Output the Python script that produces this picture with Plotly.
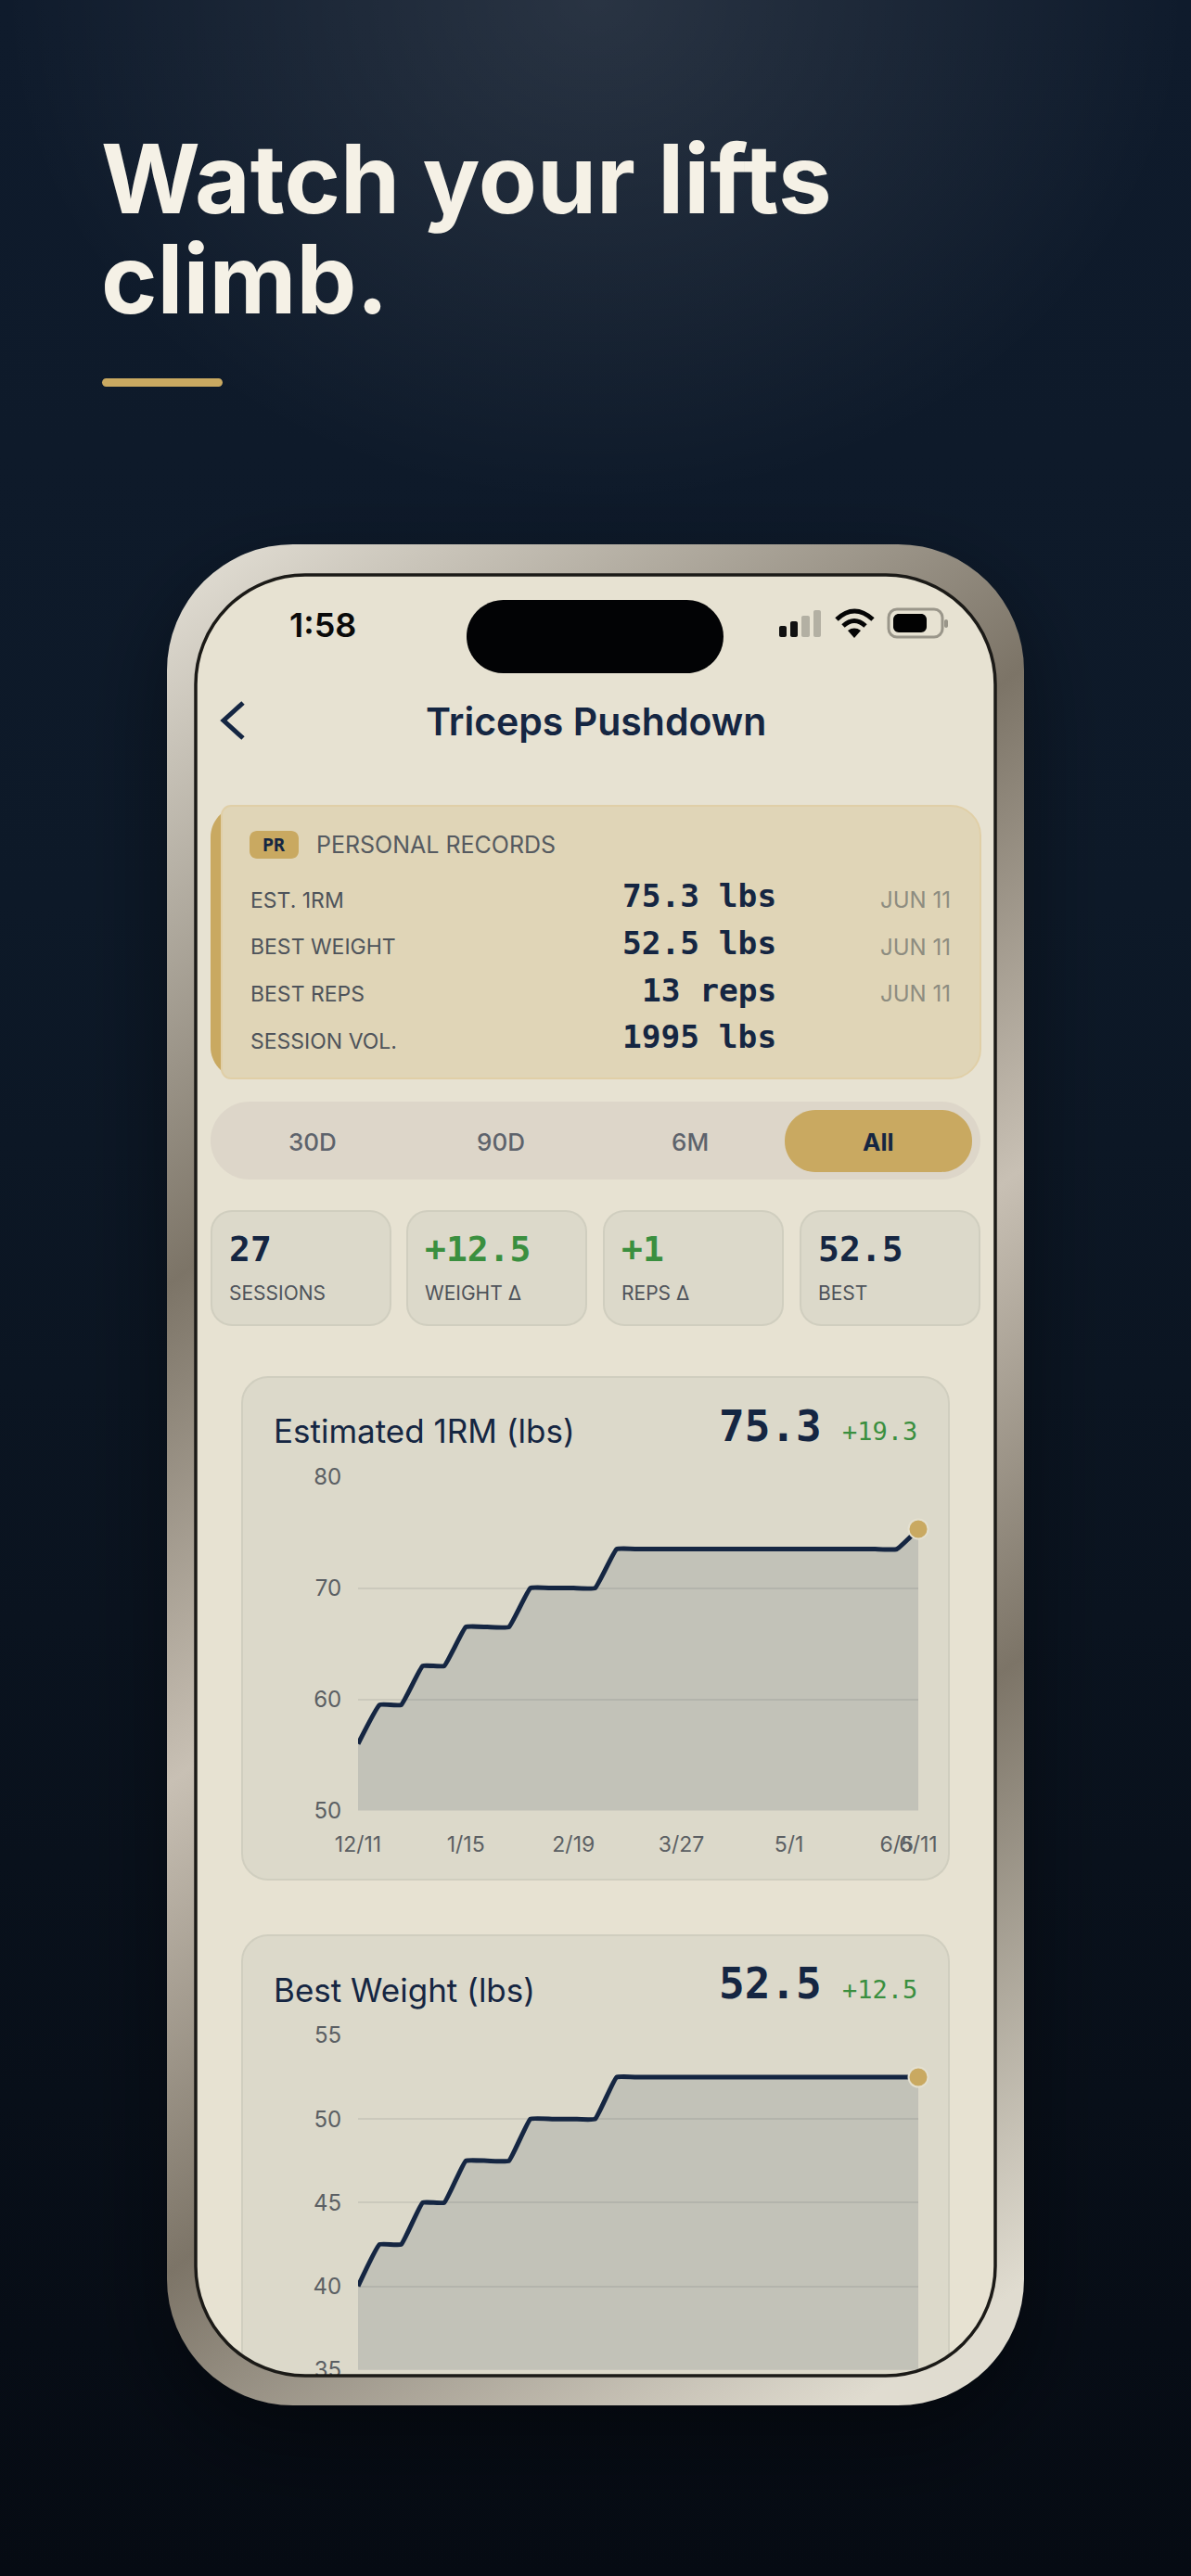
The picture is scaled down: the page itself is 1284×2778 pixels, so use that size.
import base64
import plotly.graph_objects as go

W = 1284
H = 2778

SANS = "Inter"
MONO = "DejaVu Sans Mono"
NAVY = "#152642"
GREY = "#4e535a"
GOLD = "#c9a961"
GREEN = "#3a8f3f"

# one session a week, days counted from 12/11
days = [0, 7, 14, 21, 28, 35, 42, 49, 56, 63, 70, 77, 84, 91, 98, 105, 112, 119, 126, 133, 140, 147, 154, 161, 168, 175, 182]
est_1rm = [56.0, 59.5, 59.5, 63.0, 63.0, 66.5, 66.5, 66.5, 70.0, 70.0, 70.0, 70.0, 73.5, 73.5, 73.5, 73.5, 73.5, 73.5, 73.5, 73.5, 73.5, 73.5, 73.5, 73.5, 73.5, 73.5, 75.3]
best_weight = [40.0, 42.5, 42.5, 45.0, 45.0, 47.5, 47.5, 47.5, 50.0, 50.0, 50.0, 50.0, 52.5, 52.5, 52.5, 52.5, 52.5, 52.5, 52.5, 52.5, 52.5, 52.5, 52.5, 52.5, 52.5, 52.5, 52.5]

date_ticks = [0, 35, 70, 105, 140, 175, 182]
date_labels = ["12/11", "1/15", "2/19", "3/27", "5/1", "6/5", "6/11"]
rm_ticks = [50, 60, 70, 80]
weight_ticks = [35, 40, 45, 50, 55]

pr_labels = ["EST. 1RM", "BEST WEIGHT", "BEST REPS", "SESSION VOL."]
pr_values = ["75.3 lbs", "52.5 lbs", "13 reps", "1995 lbs"]
pr_dates = ["JUN 11", "JUN 11", "JUN 11", ""]

range_labels = ["30D", "90D", "6M", "All"]

stat_values = ["27", "+12.5", "+1", "52.5"]
stat_labels = ["SESSIONS", "WEIGHT Δ", "REPS Δ", "BEST"]
stat_colors = [NAVY, GREEN, GREEN, NAVY]


def px(x):
    return round(x / W, 6)


def py(y):
    return round(1 - y / H, 6)


def svg_uri(body):
    svg = f'<svg xmlns="http://www.w3.org/2000/svg" width="{W}" height="{H}" viewBox="0 0 {W} {H}">{body}</svg>'
    return "data:image/svg+xml;base64," + base64.b64encode(svg.encode()).decode()


def rrect(x0, y0, x1, y1, r, rl=None):
    # rounded box as a path in paper coordinates, plotly has no arcs there
    # rl is a different radius for the two left corners
    if rl is None:
        rl = r
    k = r * 0.45
    kl = rl * 0.45
    pts = [
        f"M{px(x0 + rl)},{py(y0)}",
        f"L{px(x1 - r)},{py(y0)}",
        f"C{px(x1 - k)},{py(y0)} {px(x1)},{py(y0 + k)} {px(x1)},{py(y0 + r)}",
        f"L{px(x1)},{py(y1 - r)}",
        f"C{px(x1)},{py(y1 - k)} {px(x1 - k)},{py(y1)} {px(x1 - r)},{py(y1)}",
        f"L{px(x0 + rl)},{py(y1)}",
        f"C{px(x0 + kl)},{py(y1)} {px(x0)},{py(y1 - kl)} {px(x0)},{py(y1 - rl)}",
        f"L{px(x0)},{py(y0 + rl)}",
        f"C{px(x0)},{py(y0 + kl)} {px(x0 + kl)},{py(y0)} {px(x0 + rl)},{py(y0)}",
        "Z",
    ]
    return " ".join(pts)


def box(x0, y0, x1, y1, r, fill, line=None, width=2, rl=None):
    fig.add_shape(type="path", path=rrect(x0, y0, x1, y1, r, rl), xref="paper", yref="paper",
                  fillcolor=fill, line=dict(color=line or "rgba(0,0,0,0)", width=width if line else 0),
                  layer="below")


def stroke(points, color, width):
    path = points
    fig.add_shape(type="path", path=path, xref="paper", yref="paper",
                  line=dict(color=color, width=width), layer="below")


def label(x, y, text, size, color, family=SANS, weight=400, anchor="left"):
    fig.add_annotation(x=px(x), y=py(y), xref="paper", yref="paper", text=text, showarrow=False,
                       xanchor=anchor, yanchor="middle", borderpad=0,
                       font=dict(family=family, size=size, color=color, weight=weight))


fig = go.Figure()

# page background and the shadow under the phone
background = """
<defs>
<linearGradient id="bg" x1="0" y1="0" x2="0" y2="1"><stop offset="0" stop-color="#0f1b2c"/><stop offset="0.35" stop-color="#0d1928"/><stop offset="1" stop-color="#060b13"/></linearGradient>
<radialGradient id="glow" gradientUnits="userSpaceOnUse" cx="642" cy="0" r="640" gradientTransform="translate(642 0) scale(1 0.85) translate(-642 0)"><stop offset="0" stop-color="#ffffff" stop-opacity="0.11"/><stop offset="1" stop-color="#ffffff" stop-opacity="0"/></radialGradient>
<filter id="blur" x="-30%" y="-30%" width="160%" height="160%"><feGaussianBlur stdDeviation="45"/></filter>
</defs>
<rect width="1284" height="2778" fill="url(#bg)"/>
<rect width="1284" height="2778" fill="url(#glow)"/>
<rect x="180" y="620" width="924" height="2010" rx="136" fill="#000000" fill-opacity="0.4" filter="url(#blur)"/>
"""

# phone frame goes above the charts so it cuts off the second card like the screen does
frame = """
<defs>
<linearGradient id="metal" gradientUnits="userSpaceOnUse" x1="195" y1="576" x2="1401" y2="2251">
<stop offset="0" stop-color="#e6e2d8"/><stop offset="0.314" stop-color="#7c7467"/><stop offset="0.526" stop-color="#c8c0b4"/><stop offset="0.733" stop-color="#7c7467"/><stop offset="1" stop-color="#e0dcd0"/>
</linearGradient>
</defs>
<path fill="url(#metal)" fill-rule="evenodd" d="M316 587H968A136 136 0 0 1 1104 723V2458A136 136 0 0 1 968 2594H316A136 136 0 0 1 180 2458V723A136 136 0 0 1 316 587Z M329 620H955A118 118 0 0 1 1073 738V2444A118 118 0 0 1 955 2562H329A118 118 0 0 1 211 2444V738A118 118 0 0 1 329 620Z"/>
<rect x="211" y="620" width="862" height="1942" rx="118" fill="none" stroke="#1b1a17" stroke-width="3.5"/>
"""

fig.add_layout_image(source=svg_uri(background), xref="paper", yref="paper", x=0, y=1, sizex=1, sizey=1,
                     xanchor="left", yanchor="top", sizing="stretch", layer="below")
fig.add_layout_image(source=svg_uri(frame), xref="paper", yref="paper", x=0, y=1, sizex=1, sizey=1,
                     xanchor="left", yanchor="top", sizing="stretch", layer="above")

# headline
label(108, 193, "Watch your lifts", 103, "#f5f1e6", weight=700)
label(108, 301, "climb.", 103, "#f5f1e6", weight=700)
box(110, 408, 240, 417, 4.5, GOLD)

# screen
box(205, 614, 1079, 2568, 122, "#e7e2d2")

# status bar
label(311, 674, "1:58", 36, "#0a0a0a", weight=600)
box(503, 647, 780, 726, 39.5, "#020305")
box(840, 675, 848, 687, 2, "#111111")
box(852, 670, 860, 687, 2, "#111111")
box(864, 664, 873, 687, 2, "#b3b0a3")
box(877, 658, 885, 687, 2, "#b3b0a3")
stroke(f"M{px(902)},{py(668)} Q{px(921)},{py(650)} {px(941)},{py(668)}", "#050505", 5)
stroke(f"M{px(909)},{py(675)} Q{px(921)},{py(664)} {px(933)},{py(675)}", "#050505", 5)
fig.add_shape(type="path", path=f"M{px(914)},{py(680)} Q{px(921)},{py(675)} {px(928)},{py(680)} L{px(921)},{py(688)} Z",
              xref="paper", yref="paper", fillcolor="#050505", line=dict(width=0), layer="below")
box(958, 657, 1016, 687, 9, "rgba(0,0,0,0)", line="#9a968a", width=3)
box(963, 662, 999, 682, 6, "#020202")
box(1018, 668, 1022, 677, 2, "#9a968a")

# nav bar
stroke(f"M{px(262)},{py(758)} L{px(241)},{py(777)} L{px(262)},{py(796)}", NAVY, 5)
label(642, 778, "Triceps Pushdown", 41, NAVY, weight=600, anchor="center")

# personal records card
box(227, 869, 1057, 1163, 34, GOLD)
box(239, 869, 1057, 1163, 32, "#e0d5b7", line="#e0cfa7", rl=10)
box(269, 896, 322, 926, 8, GOLD)
label(295, 911, "PR", 20, NAVY, family=MONO, weight=700, anchor="center")
label(340, 911, "PERSONAL RECORDS", 25, "#555a60")
pr_label_y = [971, 1021, 1072, 1123]
pr_value_y = [966, 1017, 1068, 1118]
for i in range(len(pr_labels)):
    label(269, pr_label_y[i], pr_labels[i], 23, GREY)
    label(838, pr_value_y[i], pr_values[i], 34.5, NAVY, family=MONO, weight=700, anchor="right")
    if pr_dates[i]:
        label(1026, pr_label_y[i], pr_dates[i], 24, "#8d8c80", anchor="right")

# range selector
box(227, 1188, 1057, 1272, 42, "#ddd6c9")
box(846, 1197, 1048, 1264, 33, GOLD)
range_x = [337, 540, 744, 947]
for i in range(len(range_labels)):
    selected = range_labels[i] == "All"
    label(range_x[i], 1231, range_labels[i], 26, NAVY if selected else "#5d636c", weight=700 if selected else 500, anchor="center")

# stat cards
stat_x = [228, 439, 651, 863]
for i in range(len(stat_values)):
    box(stat_x[i], 1306, stat_x[i] + 193, 1429, 22, "#dcd9ca", line="#d0cebf")
    label(stat_x[i] + 18, 1347, stat_values[i], 38, stat_colors[i], family=MONO, weight=700)
    label(stat_x[i] + 18, 1394, stat_labels[i], 21, GREY)

# chart cards, the second one runs off the screen
box(261, 1485, 1023, 2027, 28, "#dcd9ca", line="#d0cebf")
box(261, 2087, 1023, 2580, 28, "#dcd9ca", line="#d0cebf")

label(294, 1543, "Estimated 1RM (lbs)", 35, NAVY)
label(887, 1538, "75.3", 46, NAVY, family=MONO, weight=700, anchor="right")
label(990, 1543, "+19.3", 27, GREEN, family=MONO, anchor="right")
label(294, 2146, "Best Weight (lbs)", 35, NAVY)
label(887, 2139, "52.5", 46, NAVY, family=MONO, weight=700, anchor="right")
label(990, 2146, "+12.5", 27, GREEN, family=MONO, anchor="right")


def add_series(y, xa, ya):
    fig.add_trace(go.Scatter(x=days, y=y, xaxis=xa, yaxis=ya, mode="lines", showlegend=False,
                             line=dict(color=NAVY, width=5, shape="spline", smoothing=0.3),
                             fill="tozeroy", fillcolor="rgba(21,38,66,0.13)"))
    fig.add_trace(go.Scatter(x=days[-1:], y=y[-1:], xaxis=xa, yaxis=ya, mode="markers", showlegend=False,
                             cliponaxis=False,
                             marker=dict(color=GOLD, size=21, line=dict(color="#e4e0d0", width=2))))


add_series(est_1rm, "x", "y")
add_series(best_weight, "x2", "y2")

tick_font = dict(family=SANS, size=24, color="#5b5f63")
grid = "rgba(30,40,50,0.09)"

fig.update_layout(
    width=W, height=H, margin=dict(l=0, r=0, t=0, b=0, autoexpand=False), autosize=False,
    paper_bgcolor="#0d1928", plot_bgcolor="rgba(0,0,0,0)", showlegend=False,
    xaxis=dict(domain=[px(386), px(990)], range=[0, 182], tickmode="array", tickvals=date_ticks, ticktext=date_labels,
               tickangle=0, showgrid=False, zeroline=False, ticks="outside", ticklen=16, tickcolor="rgba(0,0,0,0)",
               tickfont=dict(family=SANS, size=23, color="#5b5f63"), anchor="y", automargin=False),
    yaxis=dict(domain=[py(1952.5), py(1592.6)], range=[50, 80], tickmode="array", tickvals=rm_ticks,
               showgrid=True, gridcolor=grid, gridwidth=2, zeroline=False, ticks="outside", ticklen=12,
               tickcolor="rgba(0,0,0,0)", tickfont=tick_font, anchor="x", automargin=False),
    xaxis2=dict(domain=[px(386), px(990)], range=[0, 182], tickmode="array", tickvals=date_ticks,
                showticklabels=False, showgrid=False, zeroline=False, anchor="y2", automargin=False),
    yaxis2=dict(domain=[py(2555.7), py(2195)], range=[35, 55], tickmode="array", tickvals=weight_ticks,
                showgrid=True, gridcolor=grid, gridwidth=2, zeroline=False, ticks="outside", ticklen=12,
                tickcolor="rgba(0,0,0,0)", tickfont=tick_font, anchor="x2", automargin=False),
)

# page margin would push the figure past the window
fig.write_html("out.html", config=dict(displayModeBar=False),
               post_script="document.body.style.margin='0';document.body.style.overflow='hidden';")
